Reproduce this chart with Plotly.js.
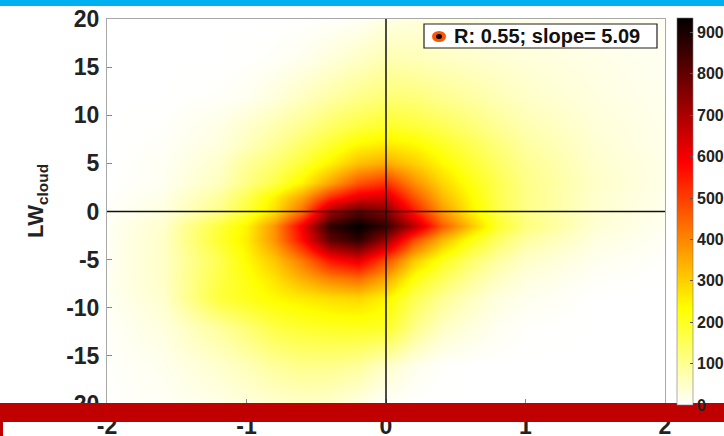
<!DOCTYPE html>
<html>
<head>
<meta charset="utf-8">
<script src="https://cdn.plot.ly/plotly-3.0.1.min.js"></script>
<style>
html,body{margin:0;padding:0;background:#fff;}
#chart{width:724px;height:436px;}
</style>
</head>
<body>
<div id="chart"></div>
<script>
// Grid coordinates of the density field
const xVals = [-2, -1.6, -1.2, -1.0, -0.8, -0.6, -0.4, -0.2, 0, 0.2, 0.4, 0.6, 0.8, 1.0, 1.5, 2];
const yVals = [-20, -16, -12, -9, -7, -5, -3, -1.5, 0, 1.5, 3, 5, 7, 9, 12, 16, 20];

// Density values, one row per yVals entry (bottom to top), estimated from the colours
const rowYm20  = [2, 8, 22, 32, 42, 50, 45, 25, 3, 0, 0, 0, 0, 0, 0, 0];
const rowYm16  = [3, 15, 45, 65, 90, 105, 105, 90, 50, 18, 3, 0, 0, 0, 0, 0];
const rowYm12  = [5, 30, 90, 130, 170, 190, 200, 205, 200, 110, 55, 30, 12, 3, 0, 0];
const rowYm9   = [10, 45, 180, 210, 240, 260, 280, 290, 250, 160, 100, 60, 30, 15, 0, 0];
const rowYm7   = [12, 50, 170, 220, 270, 340, 400, 430, 350, 220, 150, 95, 55, 30, 6, 0];
const rowYm5   = [10, 50, 160, 240, 310, 420, 560, 620, 480, 310, 210, 140, 85, 50, 15, 3];
const rowYm3   = [10, 50, 190, 260, 380, 570, 800, 870, 720, 480, 330, 220, 140, 85, 28, 8];
const rowYm1_5 = [10, 45, 180, 250, 380, 600, 870, 935, 860, 680, 460, 320, 190, 120, 40, 12];
const rowY0    = [5, 30, 110, 190, 280, 440, 720, 820, 760, 560, 380, 260, 170, 110, 45, 15];
const rowY1_5  = [2, 20, 90, 160, 250, 360, 520, 620, 640, 470, 330, 240, 160, 110, 45, 17];
const rowY3    = [0, 12, 60, 115, 170, 250, 360, 470, 520, 390, 290, 220, 160, 110, 50, 20];
const rowY5    = [0, 10, 45, 95, 130, 185, 250, 320, 350, 300, 240, 190, 140, 100, 45, 20];
const rowY7    = [0, 6, 30, 60, 95, 140, 190, 240, 260, 240, 200, 160, 120, 85, 40, 18];
const rowY9    = [0, 3, 22, 45, 70, 100, 140, 170, 195, 180, 155, 125, 95, 70, 35, 18];
const rowY12   = [0, 0, 5, 12, 30, 55, 80, 105, 125, 120, 100, 85, 65, 50, 28, 15];
const rowY16   = [0, 0, 0, 2, 6, 15, 32, 50, 70, 65, 55, 48, 40, 34, 22, 12];
const rowY20   = [0, 0, 0, 0, 0, 0, 3, 8, 25, 32, 30, 28, 25, 22, 15, 10];

const xTicks = [-2, -1, 0, 1, 2];
const xTickText = ['-2', '-1', '0', '1', '2'];
const yTicks = [-20, -15, -10, -5, 0, 5, 10, 15, 20];
const yTickText = ['-20', '-15', '-10', '-5', '0', '5', '10', '15', '20'];
const cbTicks = [0, 100, 200, 300, 400, 500, 600, 700, 800, 900];
const legendLabel = 'R: 0.55; slope= 5.09';
const yTitle = 'LW<sub>cloud</sub>';

const zGrid = [rowYm20, rowYm16, rowYm12, rowYm9, rowYm7, rowYm5, rowYm3, rowYm1_5,
               rowY0, rowY1_5, rowY3, rowY5, rowY7, rowY9, rowY12, rowY16, rowY20];

// pixel -> paper helpers (plot area 107..665 x, 19..404 y)
const L = 107, R = 665, T = 19, B = 404;
const px = p => (p - L) / (R - L);
const py = p => (B - p) / (B - T);

const FONT = 'Liberation Sans, Arial, Helvetica, sans-serif';

const hotRev = [
  [0, 'rgb(255,255,255)'],
  [0.25, 'rgb(255,255,0)'],
  [0.625, 'rgb(255,0,0)'],
  [1, 'rgb(0,0,0)']
];

const trace = {
  type: 'heatmap',
  x: xVals, y: yVals, z: zGrid,
  zsmooth: 'best',
  colorscale: hotRev,
  zmin: 0, zmax: 935,
  showscale: true,
  hoverinfo: 'skip',
  colorbar: {
    x: px(677), xanchor: 'left', xpad: 0,
    y: 0.5, yanchor: 'middle', len: 1.005, lenmode: 'fraction', ypad: 0,
    thickness: 16,
    outlinewidth: 0.6, outlinecolor: '#777',
    tickvals: cbTicks,
    ticks: 'inside', ticklen: 3, tickcolor: '#555',
    tickfont: {family: FONT, size: 16, color: '#222', weight: 'bold'}
  }
};

const axisCommon = {
  showgrid: false, zeroline: false,
  showline: true, mirror: true, linecolor: '#a8a8a8', linewidth: 1,
  ticks: 'inside', ticklen: 5, tickcolor: '#888',
  tickfont: {family: FONT, size: 23, color: '#222', weight: 'bold'}
};

const layout = {
  width: 724, height: 436,
  margin: {l: L, r: 724 - R, t: T, b: 436 - B, pad: 0, autoexpand: false},
  paper_bgcolor: '#ffffff', plot_bgcolor: '#ffffff',
  showlegend: false,
  xaxis: Object.assign({}, axisCommon, {
    range: [-2, 2], tickvals: xTicks, ticktext: xTickText, ticklabelstandoff: 1
  }),
  yaxis: Object.assign({}, axisCommon, {
    range: [-20, 20], tickvals: yTicks, ticktext: yTickText, ticklabelstandoff: 2
  }),
  annotations: [
    {
      xref: 'paper', yref: 'paper', x: px(37), y: py(201),
      text: yTitle, textangle: -90, showarrow: false,
      xanchor: 'center', yanchor: 'middle',
      font: {family: FONT, size: 22, color: '#222', weight: 'bold'}
    },
    {
      xref: 'paper', yref: 'paper', x: px(452), y: py(36.5),
      text: legendLabel, showarrow: false,
      xanchor: 'left', yanchor: 'middle',
      font: {family: FONT, size: 20, color: '#111', weight: 'bold'}
    }
  ],
  shapes: [
    // reference lines
    {type: 'line', xref: 'x', yref: 'paper', x0: 0, x1: 0, y0: 0, y1: 1,
     line: {color: '#111', width: 1.5}, layer: 'above'},
    {type: 'line', xref: 'paper', yref: 'y', x0: 0, x1: 1, y0: 0, y1: 0,
     line: {color: '#111', width: 1.5}, layer: 'above'},
    // legend box
    {type: 'rect', xref: 'paper', yref: 'paper', x0: px(424), x1: px(657), y0: py(48), y1: py(24),
     line: {color: '#222', width: 1.2}, fillcolor: '#ffffff', layer: 'above'},
    {type: 'circle', xref: 'paper', yref: 'paper',
     xsizemode: 'pixel', ysizemode: 'pixel', xanchor: px(439), yanchor: py(36.5),
     x0: -7, x1: 7, y0: -5.5, y1: 5.5,
     line: {width: 0}, fillcolor: '#ff5500', layer: 'above'},
    {type: 'circle', xref: 'paper', yref: 'paper',
     xsizemode: 'pixel', ysizemode: 'pixel', xanchor: px(439), yanchor: py(36.5),
     x0: -3, x1: 3, y0: -2.5, y1: 2.5,
     line: {width: 0}, fillcolor: '#000000', layer: 'above'},
    // page decorations: blue top band, red bottom band
    {type: 'rect', xref: 'paper', yref: 'paper', x0: px(0), x1: px(724), y0: py(6), y1: py(0),
     line: {width: 0}, fillcolor: 'rgb(0,176,240)', layer: 'above'},
    {type: 'rect', xref: 'paper', yref: 'paper', x0: px(0), x1: px(724), y0: py(422), y1: py(403),
     line: {width: 0}, fillcolor: 'rgb(192,0,0)', layer: 'above'},
    {type: 'rect', xref: 'paper', yref: 'paper', x0: px(0), x1: px(3), y0: py(436), y1: py(422),
     line: {width: 0}, fillcolor: 'rgb(192,0,0)', layer: 'above'}
  ]
};

Plotly.newPlot('chart', [trace], layout, {displayModeBar: false, staticPlot: true});
</script>
</body>
</html>
